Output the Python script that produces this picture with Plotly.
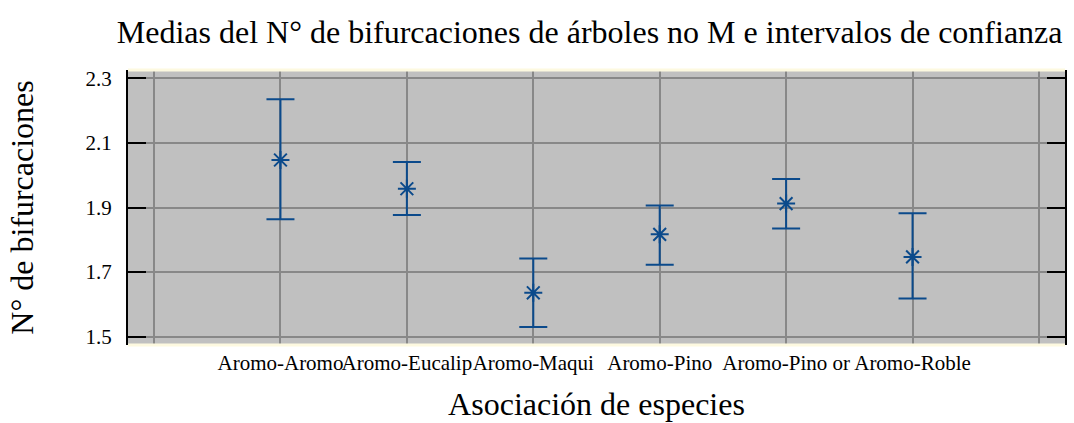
import plotly.graph_objects as go

# Medias e intervalos de confianza por asociación de especies
categorias = ["Aromo-Aromo", "Aromo-Eucalip", "Aromo-Maqui",
              "Aromo-Pino", "Aromo-Pino or", "Aromo-Roble"]
medias = [2.047, 1.958, 1.636, 1.817, 1.912, 1.747]
lim_superior = [2.235, 2.041, 1.742, 1.906, 1.988, 1.882]
lim_inferior = [1.864, 1.877, 1.530, 1.723, 1.835, 1.618]

y_ticks = [1.5, 1.7, 1.9, 2.1, 2.3]
y_tick_text = ["1.5", "1.7", "1.9", "2.1", "2.3"]

posiciones = list(range(1, len(categorias) + 1))
err_mas = [s - m for s, m in zip(lim_superior, medias)]
err_menos = [m - i for m, i in zip(medias, lim_inferior)]

AZUL = "#0b4a8b"
FUENTE = "Liberation Serif"

fig = go.Figure()
fig.add_trace(go.Scatter(
    x=posiciones,
    y=medias,
    mode="markers",
    marker=dict(symbol="asterisk-open", size=15, color=AZUL,
                line=dict(color=AZUL, width=2)),
    error_y=dict(type="data", symmetric=False, array=err_mas,
                 arrayminus=err_menos, color=AZUL, thickness=2, width=14),
    showlegend=False,
    hoverinfo="skip",
))

x_vals = [0] + posiciones + [len(categorias) + 1]
x_text = [""] + categorias + [""]

fig.update_layout(
    width=1074,
    height=423,
    margin=dict(l=128, r=9, t=70, b=78),
    paper_bgcolor="white",
    plot_bgcolor="#c0c0c0",
    font=dict(family=FUENTE, color="black"),
    title=dict(
        text="Medias del N° de bifurcaciones de árboles no M e intervalos de confianza",
        font=dict(family=FUENTE, size=32, color="black"),
        x=0.549, xref="container", xanchor="center",
        y=0.925, yref="container", yanchor="middle",
    ),
    xaxis=dict(
        range=[-0.206, 7.206],
        tickmode="array",
        tickvals=x_vals,
        ticktext=x_text,
        tickangle=0,
        automargin=False,
        showgrid=True,
        gridcolor="#888888",
        gridwidth=2,
        zeroline=False,
        showline=False,
        ticks="",
        ticklabelstandoff=3,
        tickfont=dict(family=FUENTE, size=21, color="black"),
        title=dict(text="Asociación de especies",
                   font=dict(family=FUENTE, size=32, color="black"),
                   standoff=18),
    ),
    yaxis=dict(
        range=[1.4744, 2.3256],
        tickmode="array",
        tickvals=y_ticks,
        ticktext=y_tick_text,
        automargin=False,
        showgrid=True,
        gridcolor="#888888",
        gridwidth=2,
        zeroline=False,
        showline=True,
        linecolor="black",
        linewidth=2,
        mirror="ticks",
        ticks="inside",
        ticklen=18,
        tickwidth=2,
        tickcolor="black",
        ticklabelstandoff=10,
        tickfont=dict(family=FUENTE, size=21, color="black"),
        title=dict(text="N° de bifurcaciones",
                   font=dict(family=FUENTE, size=32, color="black"),
                   standoff=42),
    ),
    shapes=[
        dict(type="line", xref="paper", yref="paper", x0=0, x1=1, y0=1, y1=1,
             line=dict(color="#fdf9e0", width=3), layer="above"),
        dict(type="line", xref="paper", yref="paper", x0=0, x1=1, y0=0, y1=0,
             line=dict(color="#fdf9e0", width=3), layer="above"),
    ],
)

fig.write_html("out.html")
